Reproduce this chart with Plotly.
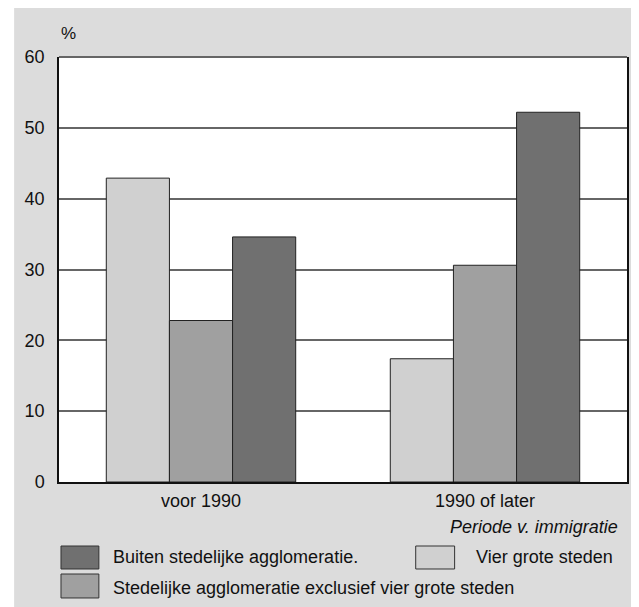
import plotly.graph_objects as go

categories = ["voor 1990", "1990 of later"]
series_names = [
    "Vier grote steden",
    "Stedelijke agglomeratie exclusief vier grote steden",
    "Buiten stedelijke agglomeratie.",
]
vier_grote_steden = [42.9, 17.4]
stedelijke_agglomeratie = [22.8, 30.6]
buiten_agglomeratie = [34.6, 52.2]
series_values = [vier_grote_steden, stedelijke_agglomeratie, buiten_agglomeratie]
colors = ["#d0d0d0", "#a0a0a0", "#707070"]
y_ticks = [0, 10, 20, 30, 40, 50, 60]

FONT = "Liberation Sans, Arial, sans-serif"

fig = go.Figure()
for name, vals, col in zip(series_names, series_values, colors):
    fig.add_trace(go.Bar(
        x=categories, y=vals, name=name,
        marker=dict(color=col, line=dict(color="#222222", width=1)),
        showlegend=False,
    ))

# Legend swatches + labels (custom layout like the original)
legend_items = [
    (2, 0.0035, 0.0702, -0.1506, -0.2047, 0.091, -0.1765),
    (0, 0.628, 0.6965, -0.1506, -0.2047, 0.7313, -0.1765),
    (1, 0.0035, 0.0702, -0.2165, -0.2729, 0.091, -0.2494),
]

shapes = [
    dict(type="rect", xref="paper", yref="paper", x0=-0.079, x1=1.03,
         y0=-0.31, y1=1.13, fillcolor="#dcdcdc", line=dict(width=0), layer="below"),
    dict(type="rect", xref="x domain", yref="y domain", x0=0, x1=1, y0=0, y1=1,
         fillcolor="white", line=dict(width=0), layer="below"),
    dict(type="line", xref="x domain", yref="y domain", x0=0, x1=1, y0=1, y1=1,
         line=dict(color="#666666", width=2)),
]
annotations = [
    dict(text="%", xref="paper", yref="paper", x=0, y=1.055, xanchor="left",
         yanchor="middle", showarrow=False, font=dict(family=FONT, size=17, color="#111")),
    dict(text="<i>Periode v. immigratie</i>", xref="paper", yref="paper", x=0.988,
         y=-0.1058, xanchor="right", yanchor="middle", showarrow=False,
         font=dict(family=FONT, size=18, color="#111")),
]
for idx, x0, x1, y0, y1, tx, ty in legend_items:
    shapes.append(dict(type="rect", xref="paper", yref="paper", x0=x0, x1=x1, y0=y0, y1=y1,
                       fillcolor=colors[idx], line=dict(color="#333333", width=1)))
    annotations.append(dict(text=series_names[idx], xref="paper", yref="paper", x=tx, y=ty,
                            xanchor="left", yanchor="middle", showarrow=False,
                            font=dict(family=FONT, size=18, color="#111")))

fig.update_layout(
    width=631, height=599,
    margin=dict(l=51, r=10, t=49, b=125),
    paper_bgcolor="white", plot_bgcolor="white",
    barmode="group", bargap=0.333, bargroupgap=0,
    font=dict(family=FONT, size=18, color="#111"),
    shapes=shapes, annotations=annotations,
    xaxis=dict(showline=True, linecolor="#111", linewidth=1.5, showgrid=False,
               ticks="", ticklabelstandoff=2, range=[-0.5, 1.5],
               tickfont=dict(family=FONT, size=18, color="#111")),
    yaxis=dict(range=[0, 60], tickvals=y_ticks, showline=True, mirror=True,
               linecolor="#111", linewidth=1.5, showgrid=True, gridcolor="#666666",
               gridwidth=1.5, zeroline=False, ticks="", ticklabelstandoff=9,
               tickfont=dict(family=FONT, size=18, color="#111")),
)

fig.write_html("out.html")
